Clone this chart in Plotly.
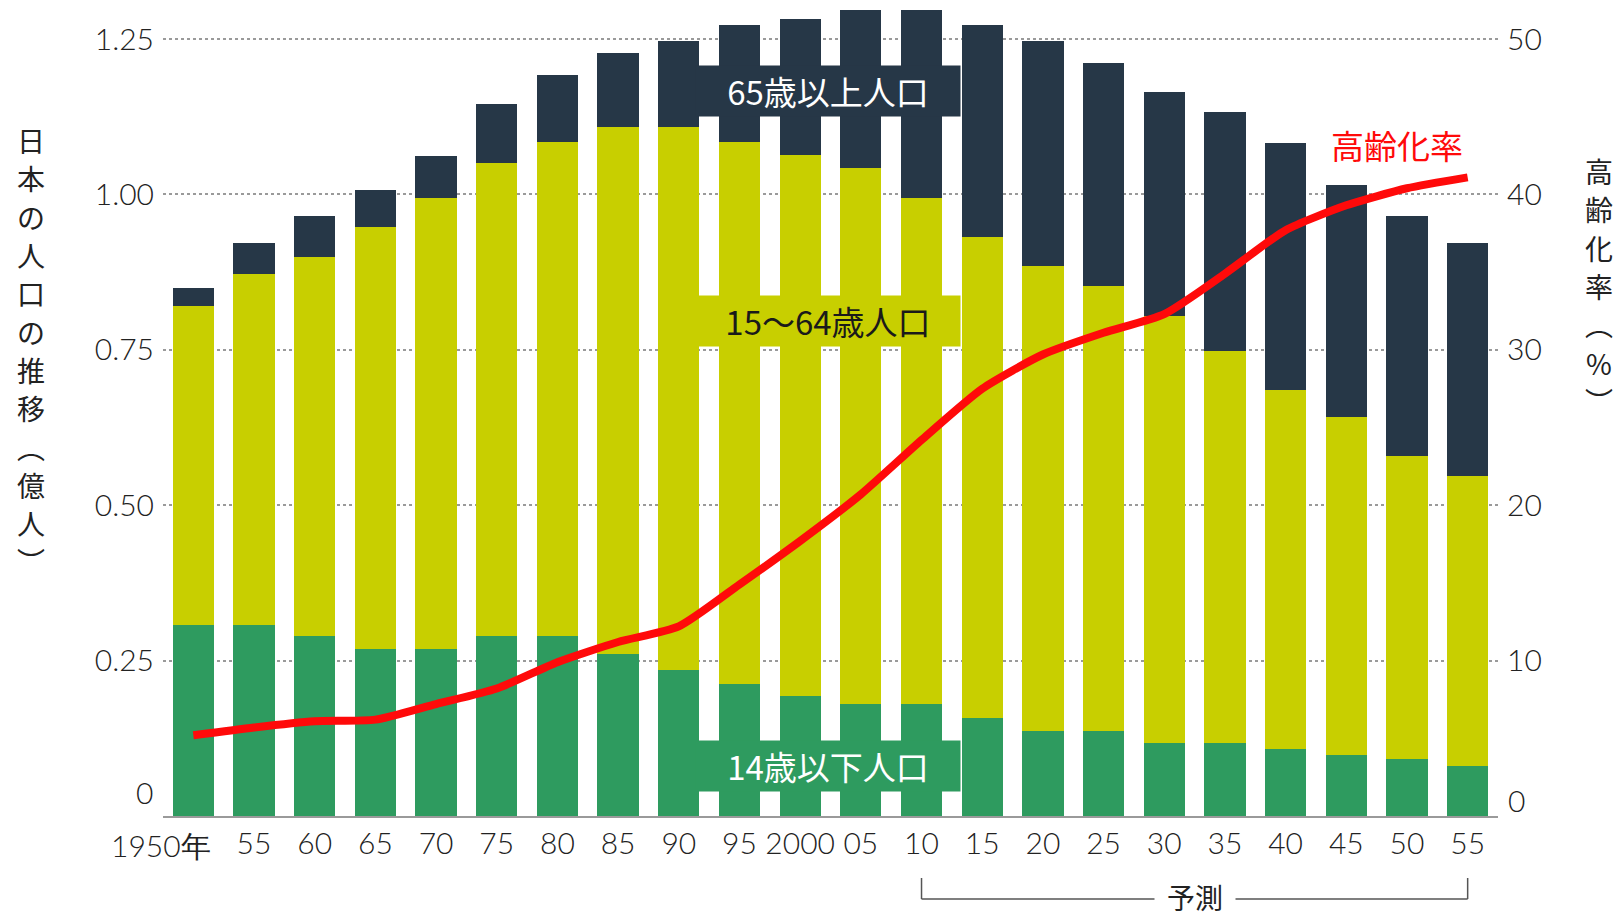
import plotly.graph_objects as go

years = ["1950", "1955", "1960", "1965", "1970", "1975", "1980", "1985", "1990", "1995", "2000",
         "2005", "2010", "2015", "2020", "2025", "2030", "2035", "2040", "2045", "2050", "2055"]
year_labels = ["1950年", "55", "60", "65", "70", "75", "80", "85", "90", "95", "2000",
               "05", "10", "15", "20", "25", "30", "35", "40", "45", "50", "55"]

# population (億人)
young = [0.307, 0.307, 0.290, 0.268, 0.268, 0.290, 0.290, 0.260, 0.235, 0.213, 0.193,
         0.180, 0.180, 0.157, 0.137, 0.137, 0.118, 0.118, 0.108, 0.098, 0.092, 0.080]
working = [0.513, 0.565, 0.610, 0.679, 0.726, 0.760, 0.795, 0.848, 0.874, 0.872, 0.871,
           0.862, 0.814, 0.774, 0.748, 0.715, 0.687, 0.630, 0.577, 0.544, 0.488, 0.467]
old = [0.030, 0.050, 0.065, 0.060, 0.068, 0.095, 0.108, 0.120, 0.138, 0.188, 0.218,
       0.255, 0.303, 0.342, 0.362, 0.360, 0.360, 0.385, 0.398, 0.373, 0.385, 0.375]
# aging rate (%)
aging_rate = [5.2, 5.7, 6.1, 6.2, 7.2, 8.2, 9.9, 11.2, 12.2, 14.9, 17.7,
              20.7, 24.2, 27.5, 29.7, 31.1, 32.3, 34.9, 37.7, 39.3, 40.4, 41.1]

left_ticks = [0, 0.25, 0.5, 0.75, 1.0, 1.25]
left_ticktext = ["0", "0.25", "0.50", "0.75", "1.00", "1.25"]
right_ticks = [0, 10, 20, 30, 40, 50]
right_ticktext = ["0", "10", "20", "30", "40", "50"]

forecast_start = "2010"
left_title = "日本の人口の推移︵億人︶"
right_title = "高齢化率︵%︶"

C_YOUNG = "#2e9b5f"
C_WORK = "#c8cf00"
C_OLD = "#263747"
C_RED = "#ff0a0a"
CJK = "Noto Sans CJK JP"
NUMF = "Lato, Noto Sans, sans-serif"

# geometry (page has an 8px body margin at left/top)
W, H = 1615, 912
ML, MR, MT, MB = 155, 125, 0, 104
PW, PH = W - ML - MR, H - MT - MB
OFF = 8


def px_to_paper_x(px):
    return (px - OFF - ML) / PW


def px_to_paper_y(py):
    return (H - MB - (py - OFF)) / PH


def cat_paper_x(cat):
    i = years.index(cat)
    return (i + 0.5) / len(years)


fig = go.Figure()
fig.add_trace(go.Bar(x=years, y=young, marker=dict(color=C_YOUNG, line=dict(width=0)), name="14歳以下人口"))
fig.add_trace(go.Bar(x=years, y=working, marker=dict(color=C_WORK, line=dict(width=0)), name="15～64歳人口"))
fig.add_trace(go.Bar(x=years, y=old, marker=dict(color=C_OLD, line=dict(width=0)), name="65歳以上人口"))
fig.add_trace(go.Scatter(x=years, y=aging_rate, yaxis="y2", mode="lines",
                         line=dict(color=C_RED, width=8, shape="spline", smoothing=0.6),
                         name="高齢化率"))

tick_font = dict(size=30, family=NUMF, color="#222", weight=300)
fig.update_layout(
    width=W, height=H,
    margin=dict(l=ML, r=MR, t=MT, b=MB, autoexpand=False),
    paper_bgcolor="white", plot_bgcolor="white",
    barmode="stack", bargap=0.32,
    showlegend=False,
    font=dict(family=NUMF, color="#222"),
    xaxis=dict(type="category", categoryorder="array", categoryarray=years,
               tickvals=years, ticktext=[""] + year_labels[1:],
               tickfont=tick_font, tickangle=0,
               showgrid=False, showline=True, linecolor="#9a9a9a", linewidth=2,
               ticks="", range=[-0.5, len(years) - 0.5], automargin=False),
    # the "0" labels sit a little above the baseline in the original; drawn as annotations below
    yaxis=dict(range=[0, 1.30], tickvals=left_ticks, ticktext=[""] + left_ticktext[1:],
               tickfont=tick_font, automargin=False,
               showgrid=True, gridcolor="#9a9a9a", griddash="dot", gridwidth=1.5,
               zeroline=False, showline=False, ticks="", ticklabelstandoff=8),
    yaxis2=dict(range=[0, 52], tickvals=right_ticks, ticktext=[""] + right_ticktext[1:],
                overlaying="y", side="right",
                tickfont=tick_font, automargin=False,
                showgrid=False, zeroline=False, showline=False, ticks="",
                ticklabelstandoff=8),
)

# zero labels, raised slightly above the baseline
fig.add_annotation(text=left_ticktext[0], xref="paper", yref="paper", x=0, xshift=-8,
                   y=px_to_paper_y(792), xanchor="right", yanchor="middle",
                   showarrow=False, font=tick_font)
fig.add_annotation(text=right_ticktext[0], xref="paper", yref="paper", x=1, xshift=8,
                   y=px_to_paper_y(800), xanchor="left", yanchor="middle",
                   showarrow=False, font=tick_font)

# first x label (with 年) sits slightly left of its bar
fig.add_annotation(text=year_labels[0], xref="paper", yref="paper", x=cat_paper_x(years[0]),
                   y=px_to_paper_y(845), xanchor="right", yanchor="middle", xshift=20,
                   showarrow=False, font=tick_font)

band_w, band_h = 262, 48
fig.add_annotation(text="65歳以上人口", xref="paper", yref="paper", x=px_to_paper_x(828), y=px_to_paper_y(91),
                   xanchor="center", yanchor="middle",
                   showarrow=False, font=dict(size=33, family=CJK, color="white"),
                   bgcolor=C_OLD, width=band_w, height=band_h)
fig.add_annotation(text="15～64歳人口", xref="paper", yref="paper", x=px_to_paper_x(828), y=px_to_paper_y(321),
                   xanchor="center", yanchor="middle",
                   showarrow=False, font=dict(size=33, family=CJK, color="#1a1a1a"),
                   bgcolor=C_WORK, width=band_w, height=band_h)
fig.add_annotation(text="14歳以下人口", xref="paper", yref="paper", x=px_to_paper_x(828), y=px_to_paper_y(766),
                   xanchor="center", yanchor="middle",
                   showarrow=False, font=dict(size=33, family=CJK, color="white"),
                   bgcolor=C_YOUNG, width=band_w, height=band_h)
fig.add_annotation(text="高齢化率", xref="paper", yref="paper", x=px_to_paper_x(1397),
                   y=px_to_paper_y(145), xanchor="center", yanchor="middle", showarrow=False,
                   font=dict(size=33, family=CJK, color=C_RED))


# axis titles (vertical, one character per annotation)
def vertical_title(text, cx, top, step, size):
    for k, ch in enumerate(text):
        fig.add_annotation(text=ch, xref="paper", yref="paper", x=px_to_paper_x(cx),
                           y=px_to_paper_y(top + step * (k + 0.5)), xanchor="center",
                           yanchor="middle", showarrow=False, borderpad=0,
                           font=dict(size=size, family=CJK, color="#222"))


vertical_title(left_title, 31, 121, 38.3, 28)
vertical_title(right_title, 1599, 152, 38.3, 28)

# 予測 bracket
yb_top = px_to_paper_y(878)
yb = px_to_paper_y(899)
xa, xb = cat_paper_x(forecast_start), cat_paper_x(years[-1])
for shp in [
    dict(x0=xa, x1=xa, y0=yb_top, y1=yb),
    dict(x0=xa, x1=xb, y0=yb, y1=yb),
    dict(x0=xb, x1=xb, y0=yb_top, y1=yb),
]:
    fig.add_shape(type="line", xref="paper", yref="paper", line=dict(color="#555", width=1.5), **shp)
fig.add_annotation(text="予測", xref="paper", yref="paper", x=(xa + xb) / 2, y=px_to_paper_y(897),
                   xanchor="center", yanchor="middle",
                   showarrow=False, font=dict(size=28, family=CJK, color="#222"),
                   bgcolor="white", borderpad=0, width=80)

fig.write_html("out.html")
